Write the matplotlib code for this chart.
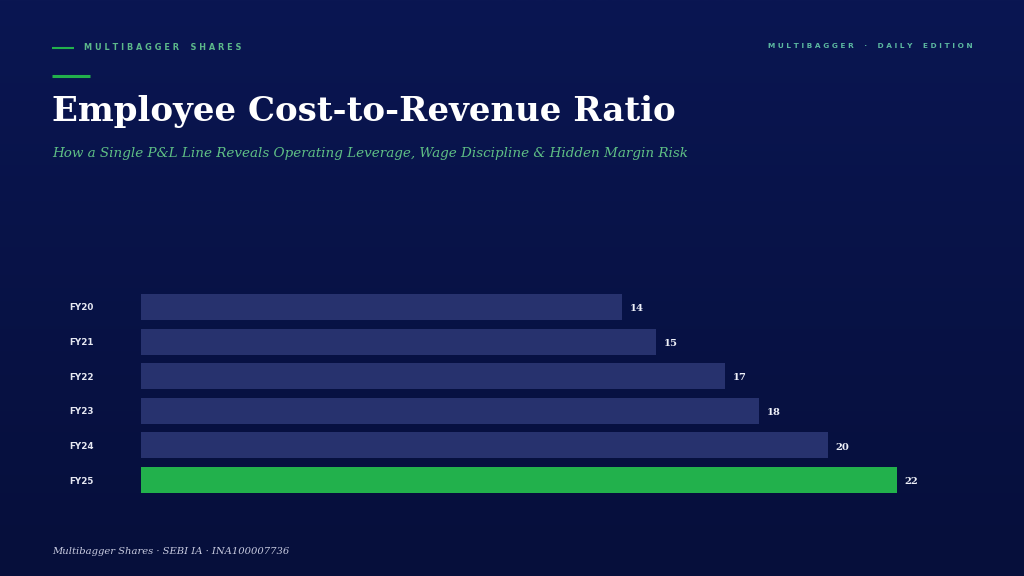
import numpy as np
import matplotlib.pyplot as plt
from matplotlib.colors import LinearSegmentedColormap

years = ["FY20", "FY21", "FY22", "FY23", "FY24", "FY25"]
ratio = [14, 15, 17, 18, 20, 22]
highlight = "FY25"

W, H = 1024, 576
fig = plt.figure(figsize=(W / 100, H / 100), dpi=100)

# background gradient
bg = fig.add_axes([0, 0, 1, 1])
grad = np.linspace(0, 1, 256).reshape(-1, 1)
cmap = LinearSegmentedColormap.from_list("bg", ["#0a1652", "#060f3b"])
bg.imshow(grad, aspect="auto", cmap=cmap, extent=[0, W, H, 0])
bg.set_xlim(0, W)
bg.set_ylim(H, 0)
bg.axis("off")

green = "#22b14c"
# header lines
bg.plot([52, 74], [48, 48], color=green, lw=1.5, solid_capstyle="butt")
bg.plot([52, 90], [76, 76], color=green, lw=2.2, solid_capstyle="butt")

def spaced(s):
    return " ".join(s).replace("   ", "    ")

bg.text(84, 47, spaced("MULTIBAGGER SHARES"), color="#5cb88a", fontsize=5.9,
        fontweight="bold", family="DejaVu Sans", va="center", ha="left")
bg.text(973, 46, spaced("MULTIBAGGER · DAILY EDITION"), color="#5cb8a0", fontsize=5.3,
        fontweight="bold", family="DejaVu Sans", va="center", ha="right")

bg.text(52, 111, "Employee Cost-to-Revenue Ratio", color="white", fontsize=24.5,
        fontweight="bold", family="DejaVu Serif", va="center", ha="left")
bg.text(52, 153, "How a Single P&L Line Reveals Operating Leverage, Wage Discipline & Hidden Margin Risk",
        color="#5fbf85", fontsize=9.7, style="italic", family="DejaVu Serif",
        va="center", ha="left")
bg.text(52, 551, "Multibagger Shares · SEBI IA · INA100007736", color="#c8cbe0",
        fontsize=7.2, style="italic", family="DejaVu Serif", va="center", ha="left")

# bar chart
px = 34.36
xmax = 25
ax = fig.add_axes([141 / W, (H - 497.3) / H, xmax * px / W, 207.6 / H])
ax.set_facecolor("none")
y = np.arange(len(years))
colors = [green if yr == highlight else "#27326e" for yr in years]
ax.barh(y, ratio, height=0.75, color=colors)
ax.set_xlim(0, xmax)
ax.set_ylim(len(years) - 0.5, -0.5)
for sp in ax.spines.values():
    sp.set_visible(False)
ax.set_xticks([])
ax.set_yticks(y)
ax.set_yticklabels(years, fontsize=6.3, fontweight="bold", color="#e6e8f2", family="DejaVu Sans")
ax.tick_params(axis="y", length=0, pad=52)
for lbl in ax.get_yticklabels():
    lbl.set_horizontalalignment("left")
for yi, v in zip(y, ratio):
    ax.text(v + 0.22, yi + 0.05, str(v), color="#eef0f8", fontsize=7.2, fontweight="bold",
            family="DejaVu Serif", va="center", ha="left")

fig.savefig("out.png", dpi=100)
